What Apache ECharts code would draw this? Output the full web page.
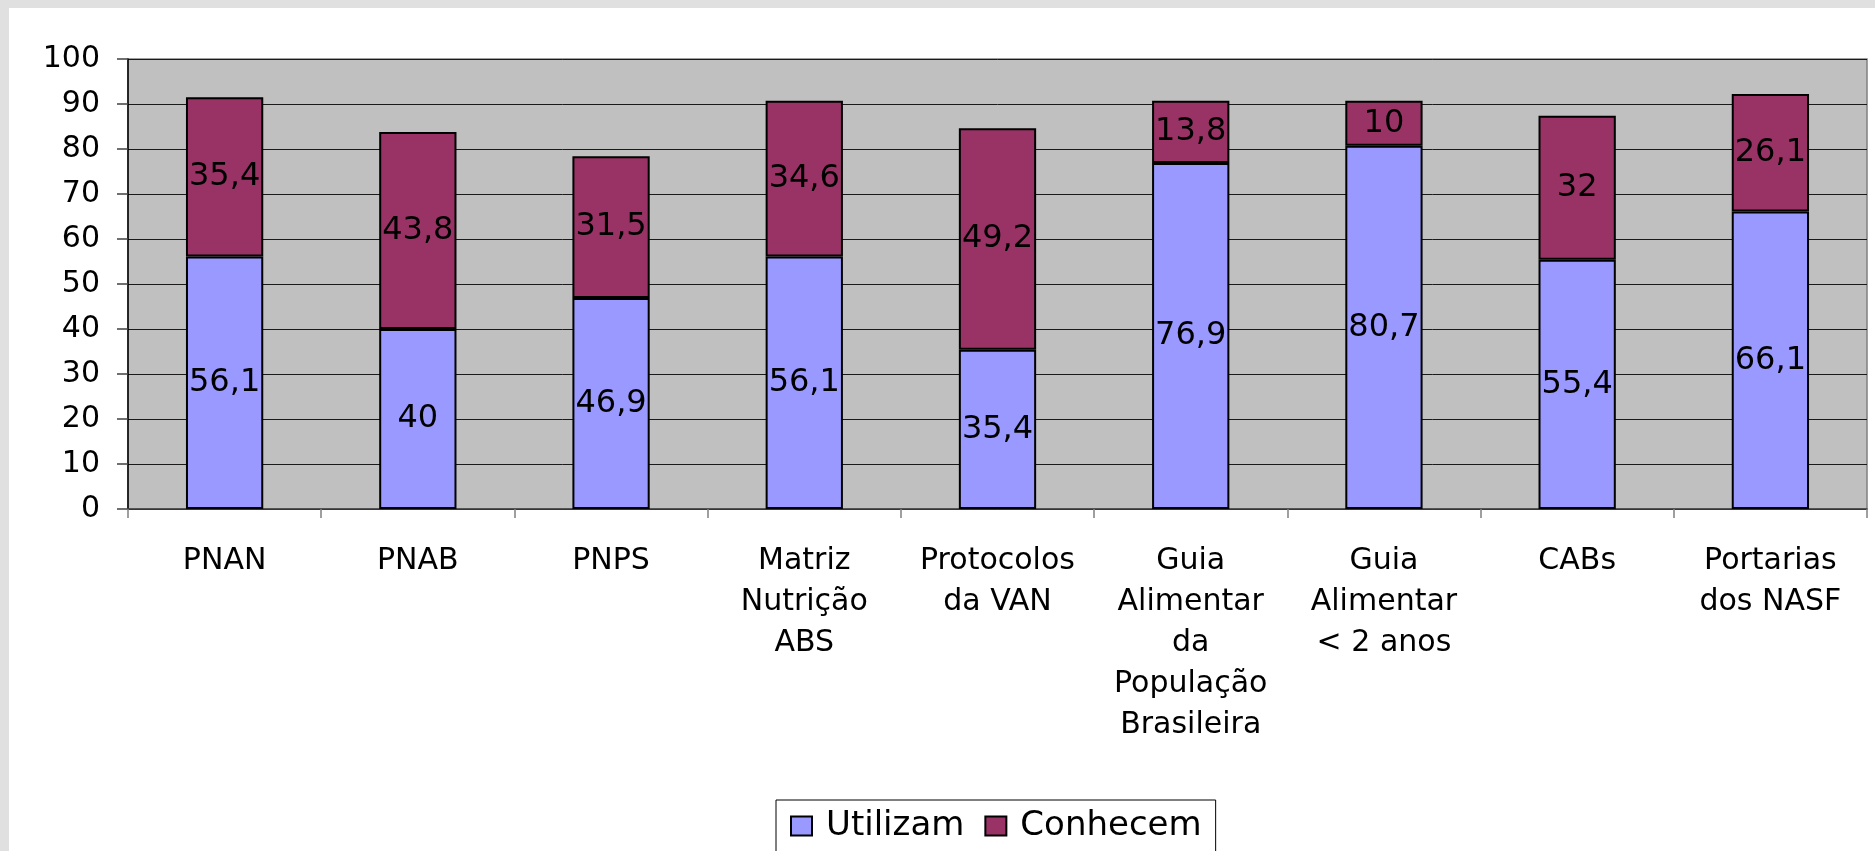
<!DOCTYPE html>
<html>
<head>
<meta charset="utf-8">
<script src="https://cdn.jsdelivr.net/npm/echarts@6/dist/echarts.min.js"></script>
<style>
  html, body { margin: 0; padding: 0; background: #e0e0e0; }
  #chart { position: absolute; left: 9px; top: 8px; width: 1866px; height: 843px; background: #ffffff; }
</style>
</head>
<body>
<div id="chart"></div>
<script>
// dados do gráfico
const categorias = [
  'PNAN', 'PNAB', 'PNPS', 'Matriz\nNutrição\nABS', 'Protocolos\nda VAN',
  'Guia\nAlimentar\nda\nPopulação\nBrasileira', 'Guia\nAlimentar\n< 2 anos', 'CABs', 'Portarias\ndos NASF'
];
const utilizam = [56.1, 40, 46.9, 56.1, 35.4, 76.9, 80.7, 55.4, 66.1];
const conhecem = [35.4, 43.8, 31.5, 34.6, 49.2, 13.8, 10, 32, 26.1];
const eixoY = { min: 0, max: 100, passo: 10 };

const fonte = '"DejaVu Sans", Verdana, sans-serif';

const chart = echarts.init(document.getElementById('chart'));

// rótulo com vírgula decimal
const rotulo = {
  show: true,
  position: 'inside',
  color: '#000',
  fontSize: 32,
  fontFamily: fonte,
  formatter: p => String(p.value).replace('.', ',')
};

const option = {
  animation: false,
  textStyle: { fontFamily: fonte },
  grid: {
    left: 119,
    top: 51,
    right: 8,
    bottom: 342,
    show: true,
    backgroundColor: '#c0c0c0',
    borderColor: '#808080',
    borderWidth: 1.5
  },
  legend: {
    data: ['Utilizam', 'Conhecem'],
    left: 767,
    top: 792,
    padding: [9, 14],
    itemGap: 20,
    itemWidth: 21,
    itemHeight: 19,
    icon: 'rect',
    backgroundColor: '#fff',
    borderColor: '#000',
    borderWidth: 1,
    textStyle: { fontSize: 34, color: '#000', fontFamily: fonte, padding: [0, 0, 0, 9] }
  },
  xAxis: {
    type: 'category',
    data: categorias,
    axisLine: { lineStyle: { color: '#404040', width: 1.5 } },
    axisTick: { show: true, length: 9, lineStyle: { color: '#808080', width: 1.5 } },
    axisLabel: {
      interval: 0,
      margin: 32,
      fontSize: 30,
      lineHeight: 41,
      color: '#000',
      fontFamily: fonte
    }
  },
  yAxis: {
    type: 'value',
    min: eixoY.min,
    max: eixoY.max,
    interval: eixoY.passo,
    axisLine: { show: true, lineStyle: { color: '#000', width: 1.5 } },
    axisTick: { show: true, length: 11, lineStyle: { color: '#404040', width: 1.5 } },
    axisLabel: { margin: 28, fontSize: 30, color: '#000', fontFamily: fonte },
    splitLine: { show: true, lineStyle: { color: '#1a1a1a', width: 1 } }
  },
  series: [
    {
      name: 'Utilizam',
      type: 'bar',
      stack: 'total',
      barWidth: '40%',
      data: utilizam,
      itemStyle: { color: '#9999ff', borderColor: '#000', borderWidth: 2 },
      label: rotulo
    },
    {
      name: 'Conhecem',
      type: 'bar',
      stack: 'total',
      barWidth: '40%',
      data: conhecem,
      itemStyle: { color: '#993366', borderColor: '#000', borderWidth: 2 },
      label: rotulo
    }
  ]
};

chart.setOption(option);
window.addEventListener('resize', () => chart.resize());
</script>
</body>
</html>
